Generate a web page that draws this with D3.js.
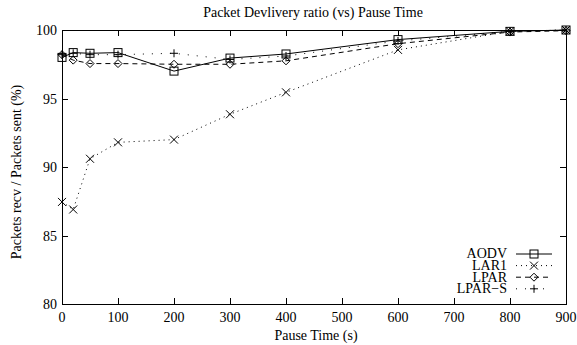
<!DOCTYPE html>
<html lang="en">
<head>
  <meta charset="UTF-8" />
  <title>Packet Devlivery ratio (vs) Pause Time</title>
  <style>
    body { margin: 0; padding: 0; background: #fff; }
  </style>
</head>
<body>
  <svg id="chart"></svg>

  <script src="https://d3js.org/d3.v7.min.js"></script>
  <script>
    const pauseTimes = [0, 20, 50, 100, 200, 300, 400, 600, 800, 900];
    const aodv  = [98.0, 98.35, 98.3, 98.35, 97.0, 97.95, 98.25, 99.3, 99.9, 100];
    const lar1  = [87.45, 86.9, 90.6, 91.8, 92.0, 93.85, 95.45, 98.55, 99.9, 100];
    const lpar  = [98.2, 97.8, 97.55, 97.55, 97.5, 97.5, 97.75, 99.0, 99.85, 99.95];
    const lparS = [98.2, 98.3, 98.2, 98.2, 98.3, 97.85, 98.1, 99.2, 99.9, 100];
    const xTicks = [0, 100, 200, 300, 400, 500, 600, 700, 800, 900];
    const yTicks = [80, 85, 90, 95, 100];

    const series = [
      { name: "AODV",   values: aodv,  dash: null,    marker: "square" },
      { name: "LAR1",   values: lar1,  dash: "1,4",   marker: "cross" },
      { name: "LPAR",   values: lpar,  dash: "5,4",   marker: "diamond" },
      { name: "LPAR\u2212S", values: lparS, dash: "1,8", marker: "plus" }
    ];

    const width = 577, height = 345;
    const margin = { top: 30, right: 11, bottom: 41, left: 62 };
    const fs = 14;

    const svg = d3.select("#chart")
      .attr("width", width)
      .attr("height", height)
      .style("font-family", '"Liberation Serif"');

    const x = d3.scaleLinear().domain([0, 900]).range([margin.left, width - margin.right]);
    const y = d3.scaleLinear().domain([80, 100]).range([height - margin.bottom, margin.top]);

    // ticks, mirrored on all sides
    const tickLen = 6;
    const g = svg.append("g").attr("stroke", "#000").attr("stroke-width", 1);
    xTicks.forEach(t => {
      const px = Math.round(x(t)) + 0.5;
      g.append("line").attr("x1", px).attr("x2", px).attr("y1", y(80)).attr("y2", y(80) - tickLen);
      g.append("line").attr("x1", px).attr("x2", px).attr("y1", y(100)).attr("y2", y(100) + tickLen);
    });
    yTicks.forEach(t => {
      const py = Math.round(y(t)) + 0.5;
      g.append("line").attr("x1", x(0)).attr("x2", x(0) + tickLen).attr("y1", py).attr("y2", py);
      g.append("line").attr("x1", x(900)).attr("x2", x(900) - tickLen).attr("y1", py).attr("y2", py);
    });

    svg.append("rect")
      .attr("x", Math.round(x(0)) + 0.5)
      .attr("y", Math.round(y(100)) + 0.5)
      .attr("width", Math.round(x(900) - x(0)))
      .attr("height", Math.round(y(80) - y(100)))
      .attr("fill", "none")
      .attr("stroke", "#000");

    // tick labels
    svg.append("g").selectAll("text")
      .data(xTicks).join("text")
      .attr("x", d => x(d))
      .attr("y", y(80) + 18)
      .attr("text-anchor", "middle")
      .attr("font-size", fs)
      .text(d => d);

    svg.append("g").selectAll("text")
      .data(yTicks).join("text")
      .attr("x", x(0) - 5)
      .attr("y", d => y(d) + 5)
      .attr("text-anchor", "end")
      .attr("font-size", fs)
      .text(d => d);

    // titles
    svg.append("text")
      .attr("x", 313).attr("y", 17)
      .attr("text-anchor", "middle").attr("font-size", fs)
      .text("Packet Devlivery ratio (vs) Pause Time");

    svg.append("text")
      .attr("x", 316).attr("y", 340)
      .attr("text-anchor", "middle").attr("font-size", fs)
      .text("Pause Time (s)");

    svg.append("text")
      .attr("transform", `translate(21,172) rotate(-90)`)
      .attr("text-anchor", "middle").attr("font-size", fs)
      .text("Packets recv / Packets sent (%)");

    function drawMarker(sel, type, cx, cy) {
      const s = 4;
      if (type === "square") {
        sel.append("rect").attr("x", cx - s).attr("y", cy - s).attr("width", 2 * s).attr("height", 2 * s)
          .attr("fill", "none").attr("stroke", "#000");
      } else if (type === "cross") {
        sel.append("path").attr("d", `M${cx - s},${cy - s}L${cx + s},${cy + s}M${cx - s},${cy + s}L${cx + s},${cy - s}`)
          .attr("stroke", "#000").attr("fill", "none");
      } else if (type === "diamond") {
        sel.append("path").attr("d", `M${cx},${cy - s}L${cx + s},${cy}L${cx},${cy + s}L${cx - s},${cy}Z`)
          .attr("stroke", "#000").attr("fill", "none");
      } else {
        sel.append("path").attr("d", `M${cx - s},${cy}L${cx + s},${cy}M${cx},${cy - s}L${cx},${cy + s}`)
          .attr("stroke", "#000").attr("fill", "none");
      }
    }

    const line = d3.line().x(d => x(d[0])).y(d => y(d[1]));

    series.forEach(s => {
      const pts = pauseTimes.map((t, i) => [t, s.values[i]]);
      svg.append("path")
        .datum(pts)
        .attr("d", line)
        .attr("fill", "none")
        .attr("stroke", "#000")
        .attr("stroke-width", 1)
        .attr("stroke-dasharray", s.dash);
      const mg = svg.append("g");
      pts.forEach(p => drawMarker(mg, s.marker, x(p[0]), y(p[1])));
    });

    // legend
    const legX = 507, legY0 = 254, legStep = 11.6;
    series.forEach((s, i) => {
      const ly = legY0 + i * legStep;
      svg.append("text")
        .attr("x", legX).attr("y", ly + 4.3)
        .attr("text-anchor", "end").attr("font-size", fs)
        .text(s.name);
      svg.append("line")
        .attr("x1", 516).attr("x2", 552).attr("y1", ly).attr("y2", ly)
        .attr("stroke", "#000").attr("stroke-dasharray", s.dash);
      drawMarker(svg.append("g"), s.marker, 534, ly);
    });
  </script>
</body>
</html>
